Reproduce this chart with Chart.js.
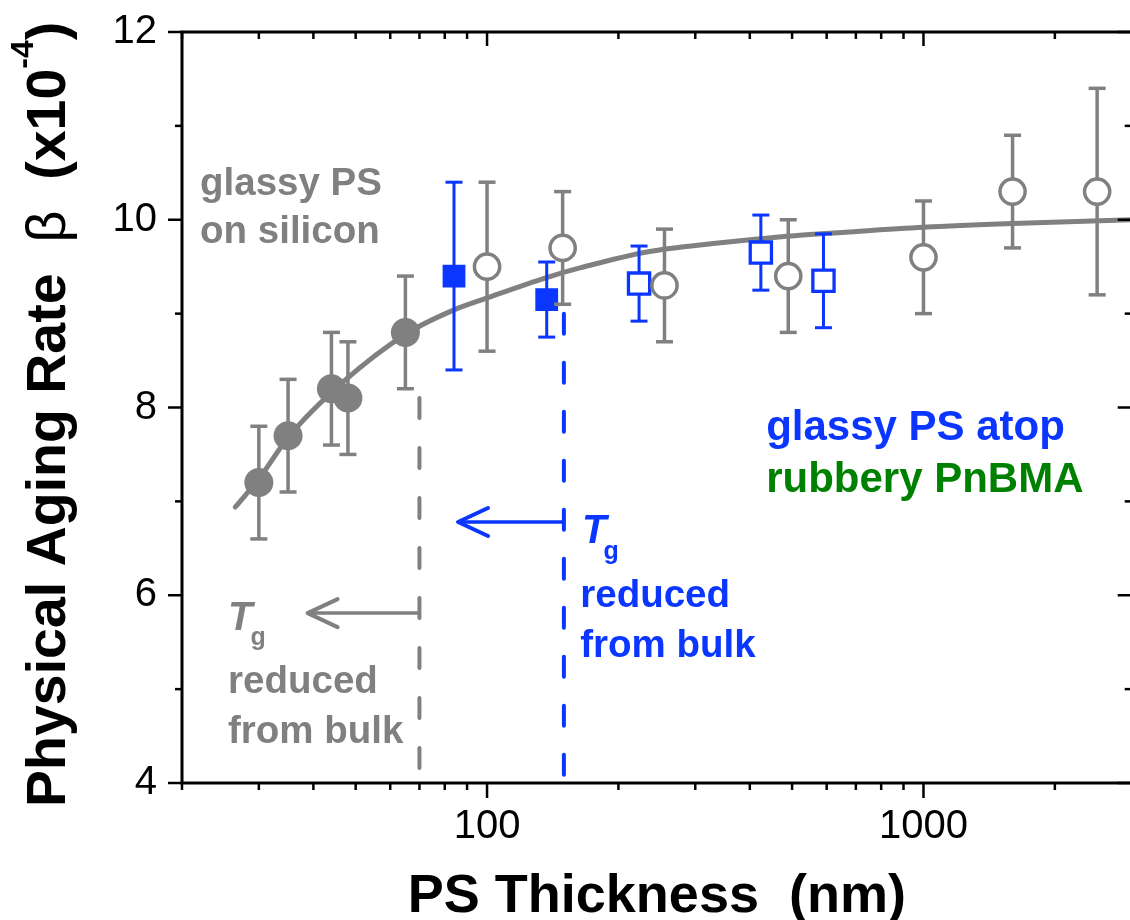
<!DOCTYPE html>
<html>
<head>
<meta charset="utf-8">
<title>Physical aging rate vs PS thickness</title>
<script src="https://cdn.jsdelivr.net/npm/chart.js@4.4.1/dist/chart.umd.min.js"></script>
<style>
    html, body { margin: 0; padding: 0; background: #fff; overflow: hidden; }
    #wrap { width: 1150px; height: 920px; }
</style>
</head>
<body>
<div id="wrap"><canvas id="agingChart" width="1150" height="920"></canvas></div>
<script>
// PS on silicon, thin films (filled gray circles)
const siliconThinNm = [30, 35, 44, 48, 65];
const siliconThinBeta = [7.2, 7.7, 8.2, 8.1, 8.8];
const siliconThinErr = [0.6, 0.6, 0.6, 0.6, 0.6];

// PS on silicon, thicker films (open gray circles)
const siliconThickNm = [100, 149, 255, 490, 1000, 1600, 2500];
const siliconThickBeta = [9.5, 9.7, 9.3, 9.4, 9.6, 10.3, 10.3];
const siliconThickErr = [0.9, 0.6, 0.6, 0.6, 0.6, 0.6, 1.1];

// PS atop PnBMA (filled blue squares)
const bilayerThinNm = [84, 137];
const bilayerThinBeta = [9.4, 9.15];
const bilayerThinErr = [1.0, 0.4];

// PS atop PnBMA (open blue squares)
const bilayerThickNm = [223, 424, 590];
const bilayerThickBeta = [9.32, 9.65, 9.35];
const bilayerThickErr = [0.4, 0.4, 0.5];

// Fit curve
const fitNm = [26.5, 30, 35, 47, 65, 84, 99, 138, 164, 234, 334, 473, 674, 1000, 1600, 3000];
const fitBeta = [6.94, 7.24, 7.68, 8.28, 8.78, 9.04, 9.16, 9.39, 9.49, 9.66, 9.75, 9.82, 9.87, 9.92, 9.96, 10.0];

// Onset of Tg reduction: dashed marker lines and arrows
const siliconTgLineNm = [70, 70];
const siliconTgLineBeta = [8.1, 4];
const bilayerTgLineNm = [150, 150];
const bilayerTgLineBeta = [9.0, 4];
const siliconArrowNm = [70, 38.8];
const siliconArrowBeta = [5.81, 5.81];
const bilayerArrowNm = [150, 85.8];
const bilayerArrowBeta = [6.78, 6.78];

// Axis ticks
const xTickValues = [20, 30, 40, 50, 60, 70, 80, 90, 100, 200, 300, 400, 500, 600, 700, 800, 900, 1000, 2000, 3000];
const xTickLabels = [100, 1000];
const yTickValues = [4, 5, 6, 7, 8, 9, 10, 11, 12];
const yTickLabels = [4, 6, 8, 10, 12];

const GRAY = '#808080';
const BLUE = '#0a36ff';
const GREEN = '#008000';
const FONT = "'Liberation Sans', Arial, sans-serif";

function toPoints(xs, ys) {
    return xs.map((x, i) => ({ x: x, y: ys[i] }));
}

// Text notes inside the plot, anchored in data units
const notes = [
    { text: 'glassy PS', nm: 22.0, beta: 10.26, color: GRAY, font: 'bold 38.5px ' + FONT },
    { text: 'on silicon', nm: 22.0, beta: 9.75, color: GRAY, font: 'bold 38.5px ' + FONT },
    { text: 'T', nm: 25.5, beta: 5.63, color: GRAY, font: 'italic bold 40px ' + FONT },
    { text: 'g', nm: 28.7, beta: 5.47, color: GRAY, font: 'bold 25px ' + FONT },
    { text: 'reduced', nm: 25.5, beta: 4.955, color: GRAY, font: 'bold 38.5px ' + FONT },
    { text: 'from bulk', nm: 25.5, beta: 4.423, color: GRAY, font: 'bold 38.5px ' + FONT },
    { text: 'T', nm: 165, beta: 6.553, color: BLUE, font: 'italic bold 40px ' + FONT },
    { text: 'g', nm: 184.8, beta: 6.386, color: BLUE, font: 'bold 25px ' + FONT },
    { text: 'reduced', nm: 163.5, beta: 5.878, color: BLUE, font: 'bold 38.5px ' + FONT },
    { text: 'from bulk', nm: 163.5, beta: 5.345, color: BLUE, font: 'bold 38.5px ' + FONT },
    { text: 'glassy PS atop', nm: 436, beta: 7.654, color: BLUE, font: 'bold 42px ' + FONT },
    { text: 'rubbery PnBMA', nm: 436, beta: 7.103, color: GREEN, font: 'bold 42px ' + FONT }
];

function line(ctx, x1, y1, x2, y2) {
    ctx.beginPath();
    ctx.moveTo(x1, y1);
    ctx.lineTo(x2, y2);
    ctx.stroke();
}

const decorPlugin = {
    id: 'decor',
    // error bars go right under their own markers
    beforeDatasetDraw(chart, args) {
        const ds = chart.data.datasets[args.index];
        if (!ds.errors) return;
        const ctx = chart.ctx;
        const xs = chart.scales.x;
        const ys = chart.scales.y;
        ctx.save();
        ctx.strokeStyle = ds.borderColor;
        ctx.lineWidth = ds.errWidth;
        ds.data.forEach((p, i) => {
            const px = xs.getPixelForValue(p.x);
            const top = ys.getPixelForValue(p.y + ds.errors[i]);
            const bot = ys.getPixelForValue(p.y - ds.errors[i]);
            line(ctx, px, top, px, bot);
            line(ctx, px - 8.5, top, px + 8.5, top);
            line(ctx, px - 8.5, bot, px + 8.5, bot);
        });
        ctx.restore();
    },
    afterDatasetsDraw(chart) {
        const ctx = chart.ctx;
        const xs = chart.scales.x;
        const ys = chart.scales.y;
        // open arrow heads
        [[siliconArrowNm, siliconArrowBeta, GRAY], [bilayerArrowNm, bilayerArrowBeta, BLUE]].forEach(a => {
            const tx = xs.getPixelForValue(a[0][1]);
            const ty = ys.getPixelForValue(a[1][1]);
            ctx.save();
            ctx.strokeStyle = a[2];
            ctx.lineWidth = 4;
            ctx.lineCap = 'round';
            ctx.lineJoin = 'round';
            ctx.beginPath();
            ctx.moveTo(tx + 30, ty - 14);
            ctx.lineTo(tx, ty);
            ctx.lineTo(tx + 30, ty + 14);
            ctx.stroke();
            ctx.restore();
        });
    },
    afterDraw(chart) {
        const ctx = chart.ctx;
        const area = chart.chartArea;
        const xs = chart.scales.x;
        const ys = chart.scales.y;
        ctx.save();

        // frame
        ctx.strokeStyle = '#000';
        ctx.lineWidth = 3;
        ctx.strokeRect(area.left, area.top, area.right - area.left, area.bottom - area.top);

        // ticks: outward on bottom/left, inward on top/right
        ctx.lineWidth = 2.5;
        xTickValues.forEach(v => {
            const px = xs.getPixelForValue(v);
            const major = xTickLabels.includes(v);
            line(ctx, px, area.bottom, px, area.bottom + (major ? 15 : 7));
            line(ctx, px, area.top, px, area.top + (major ? 14 : 7));
        });
        yTickValues.forEach(v => {
            const py = ys.getPixelForValue(v);
            const major = yTickLabels.includes(v);
            line(ctx, area.left - (major ? 14 : 7), py, area.left, py);
            line(ctx, area.right - (major ? 14 : 7), py, area.right, py);
        });

        // notes
        ctx.textAlign = 'left';
        ctx.textBaseline = 'alphabetic';
        notes.forEach(n => {
            ctx.font = n.font;
            ctx.fillStyle = n.color;
            ctx.fillText(n.text, xs.getPixelForValue(n.nm), ys.getPixelForValue(n.beta));
        });

        // x axis title
        ctx.fillStyle = '#000';
        ctx.font = 'bold 54px ' + FONT;
        ctx.textAlign = 'center';
        ctx.fillText('PS Thickness  (nm)', (area.left + area.right) / 2, 912);

        // y axis title with superscript
        ctx.translate(65, 807);
        ctx.rotate(-Math.PI / 2);
        ctx.textAlign = 'left';
        const parts = [
            { t: 'Physical Aging Rate  ', f: 'bold 55.5px ' + FONT, dy: 0 },
            { t: '\u03B2', f: '55.5px ' + FONT, dy: 0 },
            { t: '  (x10', f: 'bold 55.5px ' + FONT, dy: 0 },
            { t: '-4', f: 'bold 32px ' + FONT, dy: -32 },
            { t: ')', f: 'bold 55.5px ' + FONT, dy: 0 }
        ];
        let cx = 0;
        parts.forEach(p => {
            ctx.font = p.f;
            ctx.fillText(p.t, cx, p.dy);
            cx += ctx.measureText(p.t).width;
        });
        ctx.restore();
    }
};

const ctx = document.getElementById('agingChart').getContext('2d');
const chart = new Chart(ctx, {
    type: 'scatter',
    data: {
        datasets: [
            {
                label: 'PS on silicon (thin)',
                data: toPoints(siliconThinNm, siliconThinBeta),
                errors: siliconThinErr,
                errWidth: 3.5,
                pointStyle: 'circle',
                pointRadius: 14.5,
                pointBorderWidth: 0,
                backgroundColor: GRAY,
                borderColor: GRAY
            },
            {
                label: 'PS on silicon',
                data: toPoints(siliconThickNm, siliconThickBeta),
                errors: siliconThickErr,
                errWidth: 3.5,
                pointStyle: 'circle',
                pointRadius: 12.6,
                pointBorderWidth: 3.5,
                backgroundColor: '#fff',
                borderColor: GRAY
            },
            {
                label: 'PS atop PnBMA (thin)',
                data: toPoints(bilayerThinNm, bilayerThinBeta),
                errors: bilayerThinErr,
                errWidth: 3,
                pointStyle: 'rect',
                pointRadius: 14,
                pointBorderWidth: 3,
                backgroundColor: BLUE,
                borderColor: BLUE
            },
            {
                label: 'PS atop PnBMA',
                data: toPoints(bilayerThickNm, bilayerThickBeta),
                errors: bilayerThickErr,
                errWidth: 3,
                pointStyle: 'rect',
                pointRadius: 15,
                pointBorderWidth: 3.3,
                backgroundColor: '#fff',
                borderColor: BLUE
            },
            {
                label: 'fit',
                data: toPoints(fitNm, fitBeta),
                showLine: true,
                borderColor: GRAY,
                borderWidth: 5,
                borderCapStyle: 'round',
                cubicInterpolationMode: 'monotone',
                pointRadius: 0
            },
            {
                label: 'Tg line silicon',
                data: toPoints(siliconTgLineNm, siliconTgLineBeta),
                showLine: true,
                borderColor: GRAY,
                borderWidth: 4,
                borderDash: [20, 30],
                borderCapStyle: 'round',
                pointRadius: 0
            },
            {
                label: 'Tg line bilayer',
                data: toPoints(bilayerTgLineNm, bilayerTgLineBeta),
                showLine: true,
                borderColor: BLUE,
                borderWidth: 4,
                borderDash: [20, 29],
                borderCapStyle: 'round',
                pointRadius: 0
            },
            {
                label: 'arrow silicon',
                data: toPoints(siliconArrowNm, siliconArrowBeta),
                showLine: true,
                borderColor: GRAY,
                borderWidth: 3.5,
                pointRadius: 0
            },
            {
                label: 'arrow bilayer',
                data: toPoints(bilayerArrowNm, bilayerArrowBeta),
                showLine: true,
                borderColor: BLUE,
                borderWidth: 3.5,
                pointRadius: 0
            }
        ]
    },
    options: {
        responsive: false,
        animation: false,
        devicePixelRatio: 1,
        layout: {
            // the frame's right edge falls just past the photographed width
            padding: { top: 32, right: 8, left: 0, bottom: 0 }
        },
        plugins: {
            legend: { display: false },
            tooltip: { enabled: false }
        },
        scales: {
            x: {
                type: 'logarithmic',
                min: 20,
                max: 3000,
                grid: { display: false, drawTicks: false },
                border: { display: false },
                afterBuildTicks: scale => {
                    scale.ticks = xTickValues.map(v => ({ value: v }));
                },
                afterFit: scale => {
                    scale.height = 137;
                    scale.paddingLeft = 0;
                    scale.paddingRight = 0;
                },
                ticks: {
                    autoSkip: false,
                    maxRotation: 0,
                    minRotation: 0,
                    padding: 20,
                    color: '#000',
                    font: { family: FONT, size: 40 },
                    callback: v => xTickLabels.includes(v) ? String(v) : ''
                }
            },
            y: {
                type: 'linear',
                min: 4,
                max: 12,
                grid: { display: false, drawTicks: false },
                border: { display: false },
                afterBuildTicks: scale => {
                    scale.ticks = yTickValues.map(v => ({ value: v }));
                },
                afterFit: scale => {
                    scale.width = 182;
                    scale.paddingTop = 0;
                    scale.paddingBottom = 0;
                },
                ticks: {
                    autoSkip: false,
                    padding: 25,
                    color: '#000',
                    font: { family: FONT, size: 40 },
                    callback: v => yTickLabels.includes(v) ? String(v) : ''
                }
            }
        }
    },
    plugins: [decorPlugin]
});
</script>
</body>
</html>
